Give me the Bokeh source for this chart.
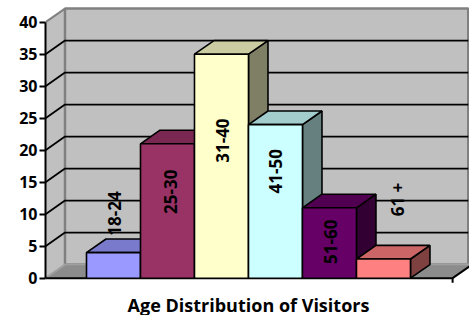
from bokeh.plotting import figure
from bokeh.models import FixedTicker, Range1d
from bokeh.core.properties import value
from bokeh.embed import file_html
from bokeh.resources import INLINE

# ---------------- data ----------------
categories = ["18-24", "25-30", "31-40", "41-50", "51-60", "61 +"]
visitors = [4, 21, 35, 24, 11, 3]
y_ticks = [0, 5, 10, 15, 20, 25, 30, 35, 40]
title_text = "Age Distribution of Visitors"

# ---------------- styles / layout ----------------
front_colors = ["#9999FF", "#993366", "#FFFFCC", "#CCFFFF", "#660066", "#FF8080"]
DX, DY = 0.361, 2.125          # 3-D depth offset (data units)
XL, XR = -0.759, 6.78          # floor front left / right
XWALL = 7.07                   # back wall right edge
XEND = 7.093
YMIN, YMAX_R = -5.83, 43.39
YTOP = 40
label_y = [10.1, 13.5, 21.5, 16.7, 5.7, 12.3]
label_dx = [0.02, 0.06, 0.02, 0.0, 0.02, 0.26]


def shade(hexc, f):
    h = hexc.lstrip("#")
    r, g, b = (int(h[i:i + 2], 16) for i in (0, 2, 4))
    return "#%02x%02x%02x" % (int(r * f), int(g * f), int(b * f))


p = figure(width=469, height=315, x_range=Range1d(XL, XEND),
           y_range=Range1d(YMIN, YMAX_R), output_backend="svg",
           toolbar_location=None, x_axis_location=None,
           min_border_left=45, min_border_right=0, min_border_top=0,
           min_border_bottom=0)
p.outline_line_color = None
p.xgrid.visible = False
p.ygrid.visible = False
p.background_fill_color = "white"
p.border_fill_color = "white"

ax = p.yaxis[0]
ax.ticker = FixedTicker(ticks=y_ticks)
ax.bounds = (0, YTOP)
ax.axis_line_width = 2
ax.axis_line_color = "black"
ax.major_tick_out = 6
ax.major_tick_in = 0
ax.major_tick_line_width = 2
ax.major_tick_line_color = "black"
ax.minor_tick_out = 0
ax.minor_tick_in = 0
ax.major_label_standoff = 2
ax.major_label_text_font = "Open Sans"
ax.major_label_text_font_style = "bold"
ax.major_label_text_font_size = "16px"
ax.major_label_text_color = "black"

# floor
p.patch([XL, XR, XR + DX, XL + DX], [0, 0, DY, DY],
        fill_color="#8c8c8c", line_color=None)
# side wall
p.patch([XL, XL + DX, XL + DX, XL], [0, DY, YTOP + DY, YTOP],
        fill_color="#c0c0c0", line_color=None)
# back wall
p.patch([XL + DX, XWALL, XWALL, XL + DX],
        [DY, DY, YTOP + DY, YTOP + DY],
        fill_color="#c0c0c0", line_color="#808080", line_width=2.5)
# wall edges
p.line([XL, XL + DX, XL + DX], [YTOP, YTOP + DY, DY], line_color="#808080", line_width=2)
p.line([XL, XL + DX, XR + DX], [0, DY, DY], line_color="#a0a0a0", line_width=2)

# gridlines
grid_vals = [t for t in y_ticks if 0 < t < YTOP]
p.multi_line([[XL, XL + DX, XWALL] for _ in grid_vals],
             [[t, t + DY, t + DY] for t in grid_vals],
             line_color="black", line_width=1.8)

# floor front edge & right diagonal
p.line([XL, XR, XR + DX], [0, 0, DY], line_color="black", line_width=2)
p.line([XR, XR], [0, -0.7], line_color="black", line_width=2)

# bars (left to right so later bars occlude earlier ones)
for i, (v, c) in enumerate(zip(visitors, front_colors)):
    x0, x1 = i, i + 1
    p.patch([x1, x1 + DX, x1 + DX, x1], [0, DY, v + DY, v],
            fill_color=shade(c, 0.5), line_color="black", line_width=1.6)
    p.patch([x0, x1, x1 + DX, x0 + DX], [v, v, v + DY, v + DY],
            fill_color=shade(c, 0.8), line_color="black", line_width=1.6)
    p.quad(left=[x0], right=[x1], bottom=[0], top=[v],
           fill_color=c, line_color="black", line_width=1.6)

# category labels
p.text(x=[i + 0.5 + d for i, d in enumerate(label_dx)], y=label_y,
       text=categories, angle=1.5708, text_align="center",
       text_baseline="middle", text_font=value("Open Sans"),
       text_font_style="bold", text_font_size="17px", text_color="black")

# title
p.text(x=[3.0], y=[-4.2], text=[title_text], text_align="center",
       text_baseline="alphabetic", text_font=value("Open Sans"),
       text_font_style="bold", text_font_size="18px", text_color="black")

open("out.html", "w").write(file_html(p, INLINE))
